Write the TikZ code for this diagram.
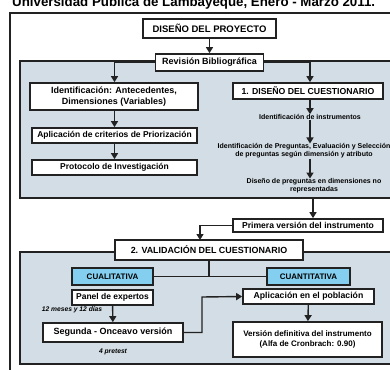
\documentclass[tikz,border=0pt]{standalone}
\usepackage{fontspec}
\setmainfont{Liberation Sans}
\usetikzlibrary{arrows.meta}
\definecolor{panelgrey}{HTML}{D3DDE5}
\definecolor{qblue}{HTML}{84CFEF}
\definecolor{edge}{HTML}{222222}
\tikzset{
  box/.style={draw=edge, line width=1.7pt, fill=white, inner sep=0pt, font=\bfseries\fontsize{8.5}{10}\selectfont, align=center},
  panel/.style={draw=edge, line width=1.3pt, fill=panelgrey},
  small/.style={inner sep=0pt, font=\bfseries\fontsize{7}{8}\selectfont, align=center},
  note/.style={inner sep=0pt, font=\bfseries\itshape\fontsize{6.7}{7}\selectfont},
  conn/.style={draw=edge, line width=1.4pt},
  arr/.style={conn, -{Triangle[length=6pt,width=7pt]}},
}
\begin{document}
\begin{tikzpicture}[x=1pt,y=-1pt]
\useasboundingbox (0,0) rectangle (390,369);
\clip (0,0) rectangle (390,369);
% title (cut off at the top, as in the reference)
\node[anchor=base west, inner sep=0pt, font=\bfseries\fontsize{13.3}{15}\selectfont] (title) at (12,6.8) {Universidad Pública de Lambayeque, Enero - Marzo 2011.};
% outer frame
\draw[draw=edge, line width=1.2pt, fill=white] (10,13) rectangle (400,380);
% panels
\path[panel] (20,61) rectangle (400,198);
\path[panel] (20,252) rectangle (400,364);
% boxes
\node[box, minimum width=133pt, minimum height=19pt, font=\bfseries\fontsize{9.5}{10}\selectfont] (proy) at (209.5,28.5) {DISEÑO DEL PROYECTO};
\node[box, minimum width=108pt, minimum height=17pt, font=\bfseries\fontsize{9}{10}\selectfont] (rev) at (209.5,62.5) {Revisión Bibliográfica};
\node[box, minimum width=168pt, minimum height=27pt, font=\bfseries\fontsize{9}{10.5}\selectfont] (ident) at (114,96.5) {Identificación: Antecedentes,\\Dimensiones (Variables)};
\node[box, minimum width=165pt, minimum height=15pt] (aplic) at (114.5,135.5) {Aplicación de criterios de Priorización};
\node[box, minimum width=165pt, minimum height=15pt] (proto) at (114.5,167.5) {Protocolo de Investigación};
\node[box, minimum width=150pt, minimum height=16pt, font=\bfseries\fontsize{8.7}{10}\selectfont] (dc) at (308,91) {1. DISEÑO DEL CUESTIONARIO};
\node[small] (t1) at (310,117) {Identificación de instrumentos};
\node[small] (t2) at (304,151) {Identificación de Preguntas, Evaluación y Selección\\de preguntas según dimensión y atributo};
\node[small] (t3) at (314,186) {Diseño de preguntas en dimensiones no\\representadas};
\coordinate (p1b) at (313,198);
\node[box, minimum width=150pt, minimum height=13pt, font=\bfseries\fontsize{8.6}{10}\selectfont] (prim) at (308,225.5) {Primera versión del instrumento};
\node[box, minimum width=188pt, minimum height=20pt, font=\bfseries\fontsize{8.9}{10}\selectfont] (val) at (209,250) {2. VALIDACIÓN DEL CUESTIONARIO};
\node[box, fill=qblue, minimum width=81pt, minimum height=17pt, font=\bfseries\fontsize{8}{10}\selectfont] (cual) at (112.5,276.5) {CUALITATIVA};
\node[box, fill=qblue, minimum width=83pt, minimum height=17pt, font=\bfseries\fontsize{8}{10}\selectfont] (cuan) at (308.5,276.5) {CUANTITATIVA};
\node[box, minimum width=81pt, minimum height=15pt] (pan) at (112.5,297.5) {Panel de expertos};
\node[note] (n1) at (72,310) {12 meses y 12 días};
\node[box, minimum width=140pt, minimum height=19pt, font=\bfseries\fontsize{9}{10}\selectfont] (seg) at (113,332.5) {Segunda - Onceavo versión};
\node[note] (n2) at (113,352) {4 pretest};
\node[box, minimum width=131pt, minimum height=15pt, font=\bfseries\fontsize{8.7}{10}\selectfont] (apl) at (308.5,296.5) {Aplicación en el población};
\node[box, minimum width=149pt, minimum height=35pt, font=\bfseries\fontsize{8}{9.5}\selectfont] (vd) at (307.5,339.5) {Versión definitiva del instrumento\\(Alfa de Cronbrach: 0.90)};
% connectors
\draw[arr] (proy) -- (rev);
\draw[arr] (rev.west) -| (ident.north -| aplic.north);
\draw[arr] (rev.east) -| (dc.north -| t1.north);
\draw[arr] (ident.south -| aplic.north) -- (aplic.north);
\draw[arr] (aplic) -- (proto);
\draw[arr] (dc.south -| t1.north) -- (t1.north);
\draw[arr] (t1.south) -- (t1.south |- t2.north);
\draw[arr] (t2.south -| t1.south) -- (t3.north -| t1.south);
\draw[arr] (p1b) -- (prim.north -| p1b);
\coordinate (vin) at (200,240);
\draw[arr] (prim.west) -| (vin);
\draw[conn] (cual.east) -- (cuan.west);
\draw[conn] (val.south) -- (val.south |- cual.east);
\draw[arr] (pan) -- (seg);
\coordinate (bend) at (202,297);
\draw[arr] (seg.east) -| (bend) -- (apl.west);
\draw[arr] (apl) -- (vd);
\end{tikzpicture}
\end{document}
